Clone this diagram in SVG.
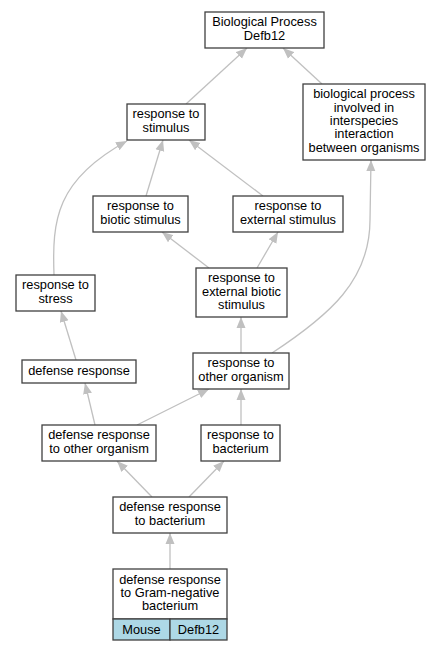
<svg xmlns="http://www.w3.org/2000/svg" width="441" height="651" viewBox="0 0 441 651">
<style>
.n rect{fill:#fff;stroke:#404040;stroke-width:1.3}
.n rect.c{fill:#add8e6}
.n text{font-family:"Liberation Sans",Arial,sans-serif;font-size:12.8px;fill:#000;text-anchor:middle}
.e path{fill:none;stroke:#c0c0c0;stroke-width:1.3;marker-end:url(#a)}
</style>
<defs>
<marker id="a" markerUnits="userSpaceOnUse" markerWidth="12" markerHeight="10" refX="11" refY="5" orient="auto">
<path d="M0,0.5 L11,5 L0,9.5 z" fill="#c0c0c0"/>
</marker>
</defs>
<rect width="441" height="651" fill="#fff"/>
<g class="e">
<path d="M186,104 L247,48"/>
<path d="M322,84 L283,48"/>
<path d="M146,196 L163,140"/>
<path d="M263,196 L189,140"/>
<path d="M54,275 C52,220 56,180 127,141"/>
<path d="M209,268 L162,232"/>
<path d="M257,268 L278,232"/>
<path d="M241,353 L241,317"/>
<path d="M272,353 C330,315 370,280 370,220 L371,160"/>
<path d="M76,360 L61,311"/>
<path d="M95,425 L85,383"/>
<path d="M137,425 L209,389"/>
<path d="M241,425 L241,389"/>
<path d="M152,497 L117,461"/>
<path d="M189,497 L224,461"/>
<path d="M170,569 L170,533"/>
</g>
<g class="n" id="n1"><rect x="205" y="12" width="119" height="36"/><text x="264.5" y="26.3">Biological Process</text><text x="264.5" y="39.7">Defb12</text></g>
<g class="n" id="n2"><rect x="127" y="104" width="78" height="36"/><text x="166" y="118.3">response to</text><text x="166" y="131.7">stimulus</text></g>
<g class="n" id="n3"><rect x="303" y="84" width="122" height="76"/><text x="364" y="98.2">biological process</text><text x="364" y="111.6">involved in</text><text x="364" y="125">interspecies</text><text x="364" y="138.4">interaction</text><text x="364" y="151.8">between organisms</text></g>
<g class="n" id="n4"><rect x="93" y="196" width="95" height="36"/><text x="140.5" y="210.3">response to</text><text x="140.5" y="223.7">biotic stimulus</text></g>
<g class="n" id="n5"><rect x="233" y="196" width="110" height="36"/><text x="288" y="210.3">response to</text><text x="288" y="223.7">external stimulus</text></g>
<g class="n" id="n6"><rect x="16" y="275" width="79" height="36"/><text x="55.5" y="289.3">response to</text><text x="55.5" y="302.7">stress</text></g>
<g class="n" id="n7"><rect x="196" y="268" width="91" height="49"/><text x="241.5" y="282.1">response to</text><text x="241.5" y="295.5">external biotic</text><text x="241.5" y="308.9">stimulus</text></g>
<g class="n" id="n8"><rect x="22" y="360" width="114" height="23"/><text x="79" y="374.7">defense response</text></g>
<g class="n" id="n9"><rect x="193" y="353" width="96" height="36"/><text x="241" y="367.3">response to</text><text x="241" y="380.7">other organism</text></g>
<g class="n" id="n10"><rect x="42" y="425" width="114" height="36"/><text x="99" y="439.3">defense response</text><text x="99" y="452.7">to other organism</text></g>
<g class="n" id="n11"><rect x="201" y="425" width="79" height="36"/><text x="240.5" y="439.3">response to</text><text x="240.5" y="452.7">bacterium</text></g>
<g class="n" id="n12"><rect x="113" y="497" width="114" height="36"/><text x="170" y="511.3">defense response</text><text x="170" y="524.7">to bacterium</text></g>
<g class="n" id="n13"><rect x="113" y="569" width="114" height="50"/><rect class="c" x="113" y="619" width="57" height="21"/><rect class="c" x="170" y="619" width="57" height="21"/><text x="170" y="583.6">defense response</text><text x="170" y="597">to Gram-negative</text><text x="170" y="610.4">bacterium</text><text x="141.5" y="633.5">Mouse</text><text x="198.5" y="633.5">Defb12</text></g>
</svg>
